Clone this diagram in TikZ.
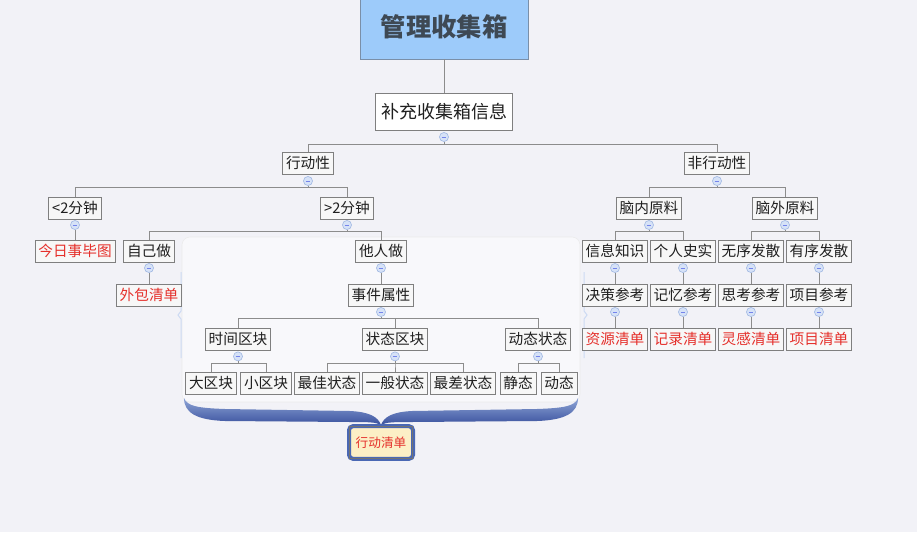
\documentclass[tikz,border=0pt]{standalone}
\usepackage{fontspec}
\newfontfamily\cjk{Noto Sans CJK SC}
\usetikzlibrary{positioning,calc}

\definecolor{bgcol}{HTML}{F2F2F7}
\definecolor{boxfill}{HTML}{F7F7F7}
\definecolor{boxline}{HTML}{7F7F7F}
\definecolor{linkgray}{HTML}{8C8C8C}
\definecolor{rootfill}{HTML}{9DCBFA}
\definecolor{rootline}{HTML}{7A8FA8}
\definecolor{roottext}{HTML}{3E4954}
\definecolor{listred}{HTML}{E5302B}
\definecolor{foldfill}{HTML}{D6E2F7}
\definecolor{folddraw}{HTML}{A6BCE4}
\definecolor{bracelight}{HTML}{8EA4D6}
\definecolor{bracemid}{HTML}{5A74BC}
\definecolor{bracedark}{HTML}{3A529E}
\definecolor{todoline}{HTML}{4A68B4}
\definecolor{todofill}{HTML}{FCEFC6}

\tikzset{
  box/.style={draw=boxline, fill=boxfill, line width=0.6pt, text=black!88,
    font=\cjk\fontsize{11}{13}\selectfont, inner xsep=2.5pt, inner ysep=0pt,
    minimum height=16.5pt},
  listbox/.style={box, text=listred},
  fold/.style={circle, draw=folddraw, fill=foldfill, line width=0.5pt,
    minimum size=6.8pt, inner sep=0pt,
    path picture={\draw[folddraw!70!blue, line width=0.6pt]
      ([xshift=-1.8pt]path picture bounding box.center) --
      ([xshift=1.8pt]path picture bounding box.center);}},
  link/.style={draw=linkgray, line width=0.75pt},
}

\begin{document}
\begin{tikzpicture}[x=0.75pt,y=-0.75pt]
\useasboundingbox (0,0) rectangle (917,532);
\fill[bgcol] (0,0) rectangle (917,532);

% frame round the action part
\draw[draw=black!8, fill=white!50!bgcol, rounded corners=6pt] (182,237) rectangle (580,402);
\draw[foldfill!80!folddraw, line width=0.75pt] (181,272) -- (181,311) -- (178,315) -- (181,319) -- (181,358);
\draw[foldfill!80!folddraw, line width=0.75pt] (584,272) -- (584,311) -- (587,315) -- (584,319) -- (584,358);

% root and first level
\node[draw=rootline, fill=rootfill, minimum width=126pt, minimum height=48pt,
  font=\cjk\bfseries\fontsize{19}{22}\selectfont, text=roottext] (root) at (444,27) {管理收集箱};
\node[box, font=\cjk\fontsize{13.5}{16}\selectfont, fill=white, inner xsep=4pt, minimum height=27.75pt] (info) at (444,111.5) {补充收集箱信息};
\node[fold] (f-info) at (444,137) {};
\draw[link] (root) -- (info);

\node[box] (act) at (308,163) {行动性};
\node[box] (nonact) at (717,163) {非行动性};
\node[fold] (f-act) at (308,181) {};
\node[fold] (f-nonact) at (717,181) {};
\foreach \c in {act,nonact}
  \draw[link] (f-info.south) -- ++(0,3) -| (\c.north);

% actionable
\node[box] (lt2) at (75,208) {<2分钟};
\node[box] (gt2) at (347,208) {>2分钟};
\node[fold] (f-lt2) at (75,225) {};
\node[fold] (f-gt2) at (347,225) {};
\foreach \c in {lt2,gt2}
  \draw[link] (f-act.south) -- ++(0,2) -| (\c.north);

\node[listbox] (today) at (75,251) {今日事毕图};
\draw[link] (f-lt2) -- (today);

\node[box] (self) at (149,251) {自己做};
\node[box] (other) at (381,251) {他人做};
\node[fold] (f-self) at (149,268) {};
\node[fold] (f-other) at (381,268) {};
\foreach \c in {self,other}
  \draw[link] (f-gt2.south) -- ++(0,2) -| (\c.north);

\node[listbox] (outsrc) at (149,295) {外包清单};
\draw[link] (f-self) -- (outsrc);
\node[box] (attr) at (381,295) {事件属性};
\node[fold] (f-attr) at (381,312) {};
\draw[link] (f-other) -- (attr);

\node[box] (time) at (238,339) {时间区块};
\node[box] (state) at (395,339) {状态区块};
\node[box] (dyn) at (538,339) {动态状态};
\foreach \c in {time,state,dyn} {
  \node[fold] (f-\c) at ($(\c.south)+(0,6)$) {};
  \draw[link] (f-attr.south) -- ++(0,2) -| (\c.north);
}

\foreach \x/\n/\t/\p in {211/big/大区块/time, 266/small/小区块/time,
    327/best/最佳状态/state, 395/normal/一般状态/state, 463/worst/最差状态/state,
    518/static/静态/dyn, 559/moving/动态/dyn} {
  \node[box] (\n) at (\x,383) {\t};
  \draw[link] (f-\p.south) -- ++(0,2) -| (\n.north);
}

% brace and action list
\shade[top color=bracelight, middle color=bracemid, bottom color=bracedark]
  (184,398) .. controls (187,406) and (197,408) .. (225,409) -- (350,411)
  .. controls (370,412) and (378,417) .. (381,425)
  .. controls (384,417) and (392,412) .. (412,411) -- (537,409)
  .. controls (565,408) and (575,406) .. (578,398)
  .. controls (578,413) and (565,420) .. (537,421) -- (412,422)
  .. controls (394,422) and (386,422) .. (381,425)
  .. controls (376,422) and (368,422) .. (350,422) -- (225,421)
  .. controls (197,420) and (184,413) .. (184,398) -- cycle;
\node[draw=todoline, fill=todofill, line width=3pt, rounded corners=3pt,
  minimum width=48pt, minimum height=24.5pt, inner sep=0pt, text=listred,
  font=\cjk\fontsize{9.5}{11}\selectfont] (todo) at (381,442.5) {行动清单};
\draw[black!55, line width=0.4pt] ([shift={(1.8pt,-1.8pt)}]todo.north west) rectangle ([shift={(-1.8pt,1.8pt)}]todo.south east);

% non-actionable
\node[box] (rawin) at (649,208) {脑内原料};
\node[box] (rawout) at (785,208) {脑外原料};
\node[fold] (f-rawin) at (649,225) {};
\node[fold] (f-rawout) at (785,225) {};
\foreach \c in {rawin,rawout}
  \draw[link] (f-nonact.south) -- ++(0,2) -| (\c.north);

\foreach \x/\n/\a/\b/\c in {615/k/信息知识/决策参考/资源清单, 683/h/个人史实/记忆参考/记录清单,
    751/d/无序发散/思考参考/灵感清单, 819/o/有序发散/项目参考/项目清单} {
  \node[box] (\n1) at (\x,251) {\a};
  \node[fold] (f-\n1) at (\x,268) {};
  \node[box] (\n2) at (\x,295) {\b};
  \node[fold] (f-\n2) at (\x,312) {};
  \node[listbox] (\n3) at (\x,339) {\c};
  \draw[link] (f-\n1) -- (\n2);
  \draw[link] (f-\n2) -- (\n3);
}
\foreach \n in {k,h}
  \draw[link] (f-rawin.south) -- ++(0,2) -| (\n1.north);
\foreach \n in {d,o}
  \draw[link] (f-rawout.south) -- ++(0,2) -| (\n1.north);
\end{tikzpicture}
\end{document}
